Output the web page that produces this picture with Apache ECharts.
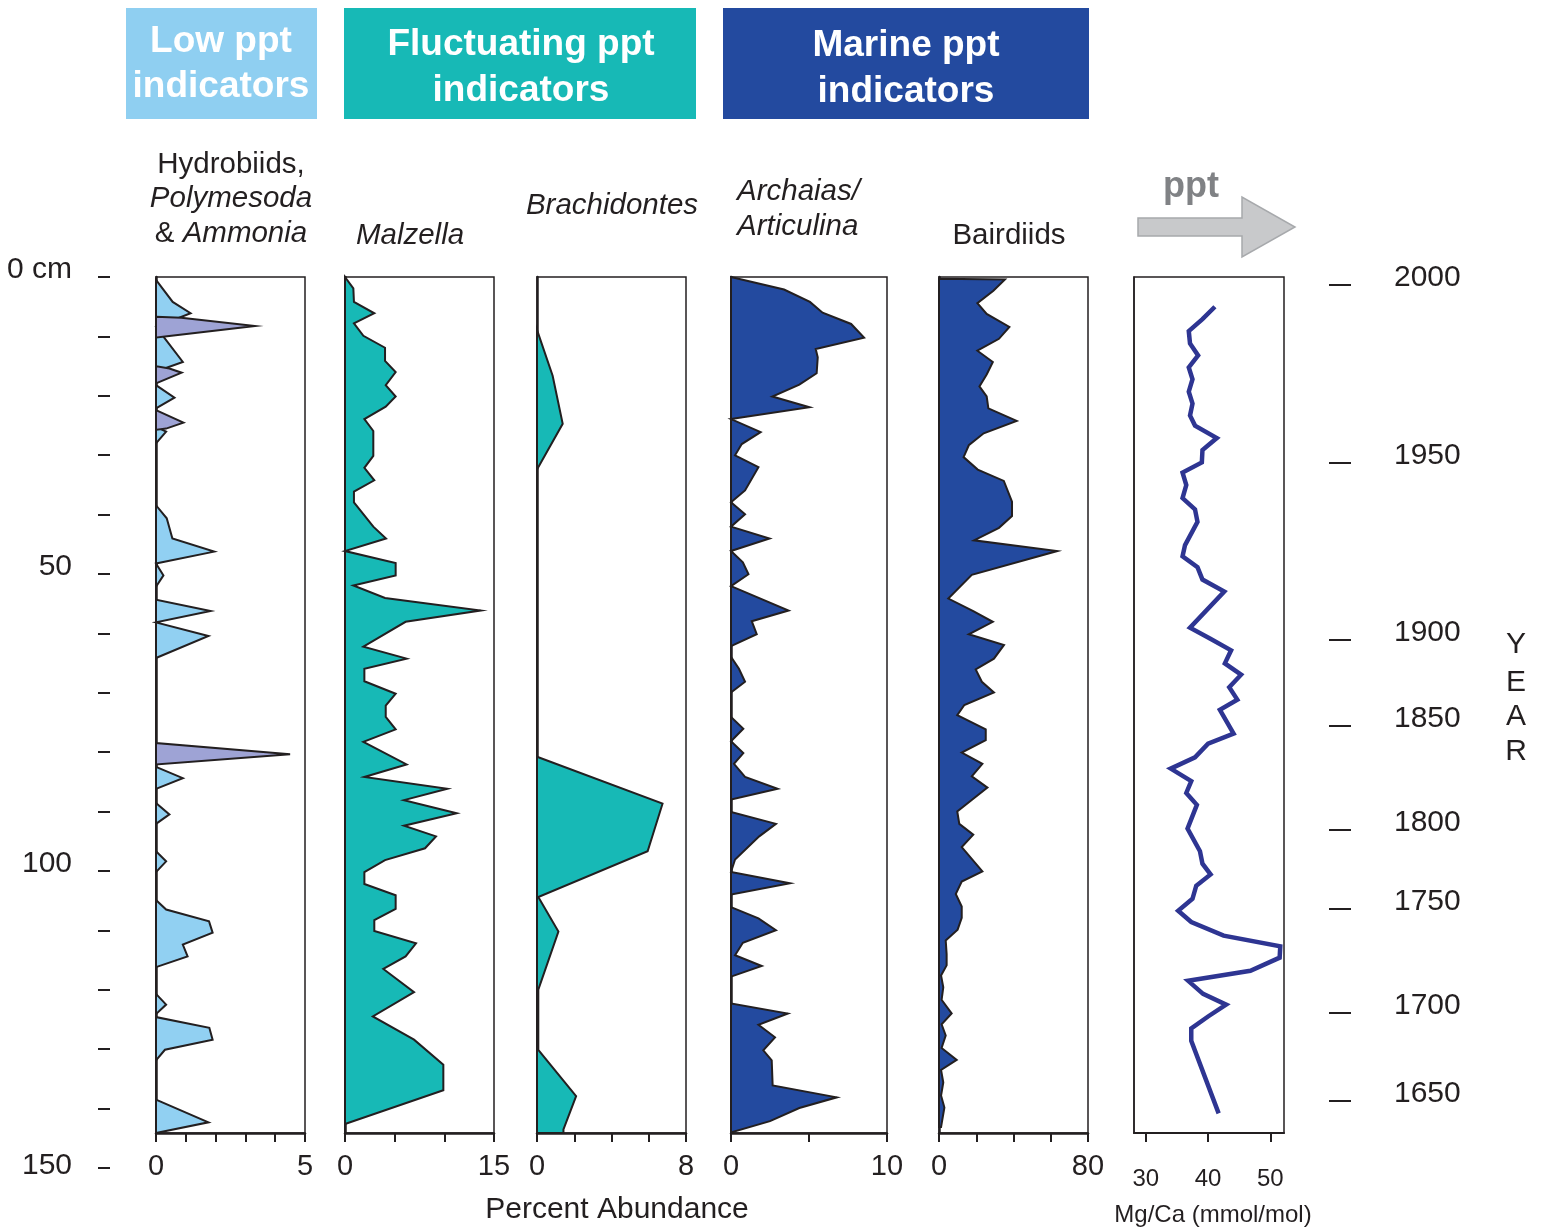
<!DOCTYPE html>
<html>
<head>
<meta charset="utf-8">
<script src="https://cdn.jsdelivr.net/npm/echarts@6/dist/echarts.min.js"></script>
<style>
  html, body { margin: 0; padding: 0; background: #fff; }
  #chart { width: 1544px; height: 1230px; }
</style>
</head>
<body>
<div id="chart"></div>
<script>
// Core profile: each record is [value, depth in cm]
const hydrobiids = [[0,0.5],[0.56,4.2],[1.16,6.1],[0,8.4],[0.9,14.3],[0,15.9],[0,18.2],[0.62,20.3],[0,22.1],[0,25.2],[0.34,26.0],[0,28.0],[0,38.4],[0.36,40.6],[0.55,44.0],[1.95,46.2],[0,48.2],[0.25,50.2],[0,52.1],[0,54.3],[1.83,56.2],[0,58.1],[1.76,60.4],[0,64.1],[0,82.4],[0.9,84.3],[0,86.1],[0,88.5],[0.45,90.4],[0,92.0],[0,96.6],[0.34,98.3],[0,100.1],[0,104.8],[0.34,106.4],[1.78,108.4],[1.9,110.3],[0.9,112.3],[1.06,114.3],[0,116.1],[0,120.6],[0.34,122.4],[0,124.0],[0,124.5],[1.79,126.3],[1.9,128.3],[0.3,130.0],[0,131.8],[0,138.4],[1.76,142.2],[0,144.0]];
const polymesodaAmmonia = [[0,6.7],[0.85,6.85],[3.32,8.25],[0.3,10.0],[0,10.2],[0,15.0],[0.45,15.4],[0.86,16.1],[0,17.9],[0,22.4],[0.92,24.5],[0.34,25.5],[0,25.7],[0,78.4],[4.5,80.3],[0,82.0]];
const malzella = [[0,0],[0.84,1.9],[0.9,4.2],[2.95,6.1],[0.9,7.8],[1.85,9.9],[4.03,11.9],[4.03,14.1],[5.1,16.0],[4.1,18.2],[5.1,20.1],[4.1,21.8],[1.95,23.9],[2.85,25.9],[2.85,30.1],[1.95,32.1],[2.95,34.2],[0.9,36.1],[0.9,37.9],[2.85,42.0],[4.13,44.0],[0,46.1],[5.1,48.1],[5.1,50.2],[0.84,51.9],[4.03,54.0],[13.66,56.1],[6.1,58.0],[1.85,62.2],[6.2,64.2],[1.95,65.9],[1.95,68.0],[5.1,70.1],[4.1,72.1],[4.1,74.0],[5.1,76.1],[1.85,78.2],[6.2,82.0],[1.95,84.1],[10.3,86.1],[5.94,88.0],[11.25,90.2],[5.94,92.3],[9.16,94.1],[8.06,96.1],[4.03,98.1],[1.95,100.1],[1.95,102.1],[5.1,104.0],[5.1,106.3],[2.95,108.2],[2.95,110.0],[7.15,112.1],[6.1,114.3],[3.86,116.4],[6.95,120.3],[2.8,124.4],[6.95,128.3],[9.9,132.5],[9.9,136.8],[0,142.5],[0,144.0]];
const brachidontes = [[0,8.9],[0.84,16.6],[1.38,24.7],[0,32.4],[0,80.7],[6.74,88.6],[5.94,96.6],[0.07,104.3],[1.15,110.1],[0.07,119.9],[0.07,130.0],[2.1,137.8],[1.42,143.4],[1.42,144.0]];
const archaias = [[0,0],[3.4,2.1],[5.06,4.2],[5.87,6.0],[7.7,7.9],[8.53,10.2],[5.43,12.1],[5.56,13.5],[5.49,16.2],[4.38,18.1],[2.65,20.1],[5.03,21.9],[0,23.9],[1.9,26.1],[0.69,28.1],[0.26,30.0],[1.76,32.0],[0.9,35.9],[0,37.9],[0.9,39.9],[0,42.0],[2.47,44.0],[0,46.1],[0.76,48.0],[1.12,50.0],[0,52.0],[3.69,56.1],[1.33,57.9],[1.65,60.1],[0,62.1],[0,63.9],[0.51,65.9],[0.9,68.1],[0,69.9],[0,74.0],[0.79,76.0],[0,78.1],[0.79,80.1],[0.19,81.9],[0.9,84.1],[2.99,86.1],[0,87.9],[0,90.0],[2.88,92.0],[1.81,94.1],[0.26,98.0],[0,100.1],[3.78,102.0],[0,103.9],[0,106.0],[1.76,107.9],[2.88,109.9],[0.76,112.0],[0.26,114.1],[1.97,115.9],[0,117.7],[0,122.2],[3.64,123.9],[1.76,125.8],[2.82,127.9],[2.07,130.1],[2.61,131.8],[2.67,136.0],[6.78,138.0],[4.38,139.8],[2.5,142.0],[0,143.9]];
const bairdiids = [[0,0.3],[35.4,0.4],[29.2,2.3],[20.6,4.4],[25.6,6.2],[37.8,8.4],[32.2,10.4],[20.6,12.4],[28.9,14.3],[25.6,16.4],[21.7,18.4],[25.6,20.1],[26.5,22.1],[41.7,24.2],[24.0,26.3],[16.0,28.3],[13.2,30.3],[20.8,32.4],[34.8,34.3],[39.2,37.8],[39.2,40.2],[32.2,42.2],[18.8,44.3],[63.5,46.1],[17.6,50.1],[5.0,54.1],[18.4,56.2],[28.9,58.0],[16.0,60.1],[34.9,61.9],[29.5,64.2],[19.7,66.0],[23.0,68.1],[29.5,69.9],[13.6,72.0],[9.8,73.7],[25.1,76.1],[25.1,77.9],[12.2,80.0],[23.3,81.9],[17.6,84.0],[26.0,85.9],[17.9,87.9],[9.8,89.9],[10.9,92.0],[18.4,93.8],[12.2,95.9],[23.3,100.0],[12.2,101.7],[9.0,103.8],[12.2,105.9],[12.2,107.8],[10.0,109.8],[3.6,111.6],[4.1,113.9],[4.1,115.8],[1.1,117.5],[2.3,119.5],[1.4,121.6],[6.8,123.9],[1.4,125.7],[3.6,127.6],[1.4,129.7],[9.5,131.7],[1.1,133.4],[2.3,135.5],[1.1,137.7],[2.9,139.7],[1.1,143.0],[0,143.0]];
const mgca = [[41.1,5.0],[39.1,7.1],[36.9,9.1],[37.1,11.2],[38.4,13.2],[36.9,15.2],[37.5,17.2],[36.9,19.3],[37.5,21.3],[37.1,23.3],[37.9,25.0],[41.4,27.1],[39.1,29.1],[39.0,31.2],[35.9,32.9],[36.5,35.0],[35.9,37.2],[37.9,39.1],[38.3,41.2],[36.3,45.1],[35.9,47.0],[38.3,48.8],[39.1,50.9],[42.6,52.9],[37.1,59.0],[40.3,60.8],[43.7,62.8],[42.7,65.0],[45.3,66.9],[43.4,69.0],[44.7,71.1],[41.9,72.8],[44.1,76.8],[40.0,78.5],[37.9,80.8],[34.0,82.7],[37.3,84.8],[36.5,86.8],[38.2,88.8],[36.7,92.8],[38.7,96.6],[39.1,98.7],[40.4,100.5],[38.1,102.4],[37.5,104.6],[35.2,106.6],[37.3,108.5],[42.5,110.8],[51.6,112.6],[51.5,114.5],[46.8,116.7],[36.8,118.4],[39.2,120.6],[42.9,122.4],[40.0,124.4],[37.3,126.4],[37.3,128.5],[41.7,140.7]];

// Depth scale (cm) and calendar-year tie points (depth in cm)
const depthLabels = [0, 50, 100, 150];
const yearDepths = [1.35, 31.3, 61.1, 75.6, 93.1, 106.4, 123.9, 138.7];
const yearLabels = ['2000', '1950', '1900', '1850', '1800', '1750', '1700', '1650'];

// Panel x-scales: [max, tick interval]
const panelScales = [[5, 1], [15, 5], [8, 2], [10, 5], [80, 20]];
const mgcaTicks = [30, 40, 50];

const INK = '#231f20';
const FONT = '"Liberation Sans", Arial, Helvetica, sans-serif';
const panelLefts = [156, 345, 537, 731, 939, 1134];
const panelWidths = [149, 149, 149, 156, 149, 150];
const TOP = 277, PANEL_H = 856, DEPTH_MAX = 144;

const chart = echarts.init(document.getElementById('chart'), null, { renderer: 'canvas' });

const grids = panelLefts.map((l, i) => ({
  left: l, top: TOP, width: panelWidths[i], height: PANEL_H,
  show: true, borderColor: INK, borderWidth: 1.5, backgroundColor: 'transparent'
}));
// depth axis and year axis strips
grids.push({ left: 110, top: TOP, width: 1, height: 891 });
grids.push({ left: 1328, top: TOP, width: 1, height: 891 });

const xAxes = panelScales.map(([max, iv], i) => ({
  gridIndex: i, type: 'value', position: 'bottom', min: 0, max: max, interval: iv,
  axisLine: { show: true, onZero: false, lineStyle: { color: INK, width: 2.5 } },
  axisTick: { show: true, length: 9, lineStyle: { color: INK, width: 2 } },
  axisLabel: {
    margin: 19, fontSize: 29, fontFamily: FONT, color: INK,
    showMinLabel: true, showMaxLabel: true,
    formatter: v => (v === 0 || v === max) ? String(v) : ''
  },
  splitLine: { show: false }
}));
xAxes.push({
  gridIndex: 5, type: 'value', position: 'bottom', min: 28.1, max: 52.2,
  axisLine: { show: true, onZero: false, lineStyle: { color: INK, width: 2 } },
  axisTick: { show: true, length: 9, customValues: mgcaTicks, lineStyle: { color: INK, width: 2 } },
  axisLabel: { margin: 34, fontSize: 24, fontFamily: FONT, color: INK, customValues: mgcaTicks },
  splitLine: { show: false }
});
xAxes.push({ gridIndex: 6, type: 'value', show: false });
xAxes.push({ gridIndex: 7, type: 'value', show: false });

// labels sit a little above their tick marks
const raised = {
  r: { fontSize: 30, fontFamily: FONT, color: INK, padding: [0, 0, 15, 0] },
  b: { fontSize: 30, fontFamily: FONT, color: INK, padding: [0, 0, 4, 0] }
};

const yAxes = panelLefts.map((l, i) => ({
  gridIndex: i, type: 'value', inverse: true, min: 0, max: DEPTH_MAX,
  axisLine: { show: true, onZero: false, lineStyle: { color: INK, width: i < 5 ? 2.5 : 1.5 } },
  axisTick: { show: false }, axisLabel: { show: false }, splitLine: { show: false }
}));
yAxes.push({
  gridIndex: 6, type: 'value', inverse: true, min: 0, max: 150, interval: 10, position: 'left',
  axisLine: { show: false, onZero: false },
  axisTick: { show: true, length: 12, lineStyle: { color: INK, width: 2 } },
  axisLabel: {
    margin: 38, rich: raised,
    showMinLabel: true, showMaxLabel: true,
    formatter: v => {
      if (v === 0) return '{r|0 cm}';
      if (v === 150) return '{b|150}';
      return depthLabels.indexOf(v) >= 0 ? '{r|' + v + '}' : '';
    }
  },
  splitLine: { show: false }
});
yAxes.push({
  gridIndex: 7, type: 'value', inverse: true, min: 0, max: 150, position: 'right',
  axisLine: { show: false, onZero: false },
  axisTick: { show: true, length: 22, customValues: yearDepths, lineStyle: { color: INK, width: 2 } },
  axisLabel: {
    margin: 65, rich: raised,
    customValues: yearDepths,
    formatter: v => { const k = yearDepths.indexOf(v); return k >= 0 ? '{r|' + yearLabels[k] + '}' : ''; }
  },
  splitLine: { show: false }
});

// Filled profile: one polygon closed against the zero line
function profile(idx, pts, color) {
  return {
    type: 'custom', xAxisIndex: idx, yAxisIndex: idx, data: pts,
    encode: { x: 0, y: 1 }, silent: true,
    renderItem: (params, api) => {
      if (params.dataIndex !== 0) return null;
      const poly = pts.map(p => api.coord(p));
      poly.unshift(api.coord([0, pts[0][1]]));
      poly.push(api.coord([0, pts[pts.length - 1][1]]));
      return {
        type: 'polygon', shape: { points: poly },
        style: { fill: color, stroke: INK, lineWidth: 2, lineJoin: 'miter' }
      };
    }
  };
}

const series = [
  profile(0, hydrobiids, '#91d0f2'),
  profile(0, polymesodaAmmonia, '#9ea3d5'),
  profile(1, malzella, '#17b9b6'),
  profile(2, brachidontes, '#17b9b6'),
  profile(3, archaias, '#234a9f'),
  profile(4, bairdiids, '#234a9f'),
  {
    type: 'line', xAxisIndex: 5, yAxisIndex: 5, data: mgca,
    symbol: 'none', showSymbol: false, silent: true,
    lineStyle: { color: '#2e3592', width: 4.5, join: 'miter' }
  }
];

function txt(x, y, text, opts) {
  return {
    type: 'text', x: x, y: y, silent: true,
    style: Object.assign({
      text: text, fill: INK, fontSize: 29.5, fontFamily: FONT,
      align: 'center', verticalAlign: 'middle'
    }, opts || {})
  };
}

const head = { fill: '#fff', fontSize: 37, fontWeight: 'bold' };

const graphic = [
  { type: 'rect', shape: { x: 126, y: 8, width: 191, height: 111 }, style: { fill: '#8fcff1' }, silent: true },
  { type: 'rect', shape: { x: 344, y: 8, width: 352, height: 111 }, style: { fill: '#17b9b6' }, silent: true },
  { type: 'rect', shape: { x: 723, y: 8, width: 366, height: 111 }, style: { fill: '#234a9f' }, silent: true },
  txt(221, 42, 'Low ppt', head),
  txt(221, 87, 'indicators', head),
  txt(521, 45, 'Fluctuating ppt', head),
  txt(521, 91, 'indicators', head),
  txt(906, 46, 'Marine ppt', head),
  txt(906, 92, 'indicators', head),

  txt(231, 165, 'Hydrobiids,'),
  txt(231, 199, 'Polymesoda', { fontStyle: 'italic' }),
  {
    type: 'text', x: 231, y: 234, silent: true,
    style: {
      text: '{n|& }{i|Ammonia}', align: 'center', verticalAlign: 'middle',
      rich: {
        n: { fontSize: 29.5, fontFamily: FONT, fill: INK },
        i: { fontSize: 29.5, fontFamily: FONT, fill: INK, fontStyle: 'italic' }
      }
    }
  },
  txt(410, 236, 'Malzella', { fontStyle: 'italic' }),
  txt(612, 206, 'Brachidontes', { fontStyle: 'italic' }),
  txt(737, 192, 'Archaias/', { fontStyle: 'italic', align: 'left' }),
  txt(737, 227, 'Articulina', { fontStyle: 'italic', align: 'left' }),
  txt(1009, 236, 'Bairdiids'),

  txt(1191, 187, 'ppt', { fill: '#808285', fontSize: 36, fontWeight: 'bold' }),
  {
    type: 'polygon', silent: true,
    shape: { points: [[1138, 218], [1242, 218], [1242, 197], [1295, 227], [1242, 257], [1242, 236], [1138, 236]] },
    style: { fill: '#c8c9cb', stroke: '#a7a9ac', lineWidth: 1.5 }
  },

  txt(617, 1210, 'Percent Abundance', { fontSize: 30 }),
  txt(1213, 1215, 'Mg/Ca (mmol/mol)', { fontSize: 24 }),

  txt(1516, 645, 'Y', { fontSize: 30 }),
  txt(1516, 683, 'E', { fontSize: 30 }),
  txt(1516, 717, 'A', { fontSize: 30 }),
  txt(1516, 752, 'R', { fontSize: 30 })
];

chart.setOption({
  animation: false,
  backgroundColor: '#ffffff',
  grid: grids,
  xAxis: xAxes,
  yAxis: yAxes,
  series: series,
  graphic: graphic
});
</script>
</body>
</html>
